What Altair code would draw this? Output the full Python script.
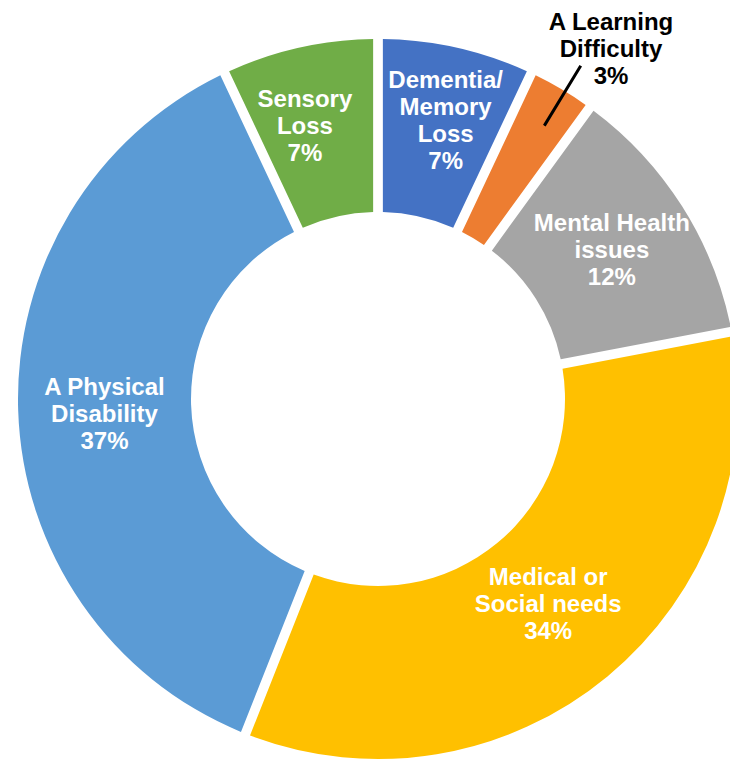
import math
import altair as alt
import pandas as pd

# ---- data ----
categories = [
    "Dementia/ Memory Loss",
    "A Learning Difficulty",
    "Mental Health issues",
    "Medical or Social needs",
    "A Physical Disability",
    "Sensory Loss",
]
label_text = [
    "Dementia/\nMemory\nLoss\n7%",
    "A Learning\nDifficulty\n3%",
    "Mental Health\nissues\n12%",
    "Medical or\nSocial needs\n34%",
    "A Physical\nDisability\n37%",
    "Sensory\nLoss\n7%",
]
values = [7, 3, 12, 34, 37, 7]
colors = ["#4472C4", "#ED7D31", "#A5A5A5", "#FFC000", "#5B9BD5", "#70AD47"]

# ---- label layout (pixels / value-unit offsets) ----
label_radius = [286, 420, 277, 267, 274, 282]
label_shift = [0.3, 0.86, 0.0, 0.0, -0.42, -0.67]
LINE_H = 27
LEADER_SHIFT = 0.2

df = pd.DataFrame({"category": categories, "label": label_text, "value": values})
df["end"] = df["value"].cumsum()
df["start"] = df["end"] - df["value"]
df["mid"] = (df["start"] + df["end"]) / 2
df["leader_theta"] = df["mid"] + LEADER_SHIFT
df["label_theta"] = df["mid"] + pd.Series(label_shift)
df["label_r"] = label_radius
df["inside"] = df["category"] != "A Learning Difficulty"
df["nlines"] = df["label"].str.count("\n") + 1

CX, CY = 378, 399
theta_scale = alt.Scale(domain=[0, 100], range=[0, 2 * math.pi])

base = alt.Chart(df)

arcs = base.mark_arc(innerRadius=187, outerRadius=360, padAngle=0.024).encode(
    theta=alt.Theta("start:Q", scale=theta_scale),
    theta2="end:Q",
    color=alt.Color("category:N", scale=alt.Scale(domain=categories, range=colors), legend=None),
    x=alt.value(CX),
    y=alt.value(CY),
)

text_style = dict(
    font="Liberation Sans",
    fontWeight="bold",
    fontSize=24,
    lineHeight=LINE_H,
    lineBreak="\n",
    align="center",
    baseline="middle",
)

layers = [arcs]

leader = base.transform_filter("!datum.inside").mark_arc(
    innerRadius=320, outerRadius=390, stroke="black", strokeWidth=3, fillOpacity=0
).encode(
    theta=alt.Theta("leader_theta:Q", scale=theta_scale),
    theta2="leader_theta:Q",
    x=alt.value(CX),
    y=alt.value(CY),
)
layers.append(leader)

for inside, color in [(True, "white"), (False, "black")]:
    for n in sorted(df["nlines"].unique()):
        sub = df[(df["inside"] == inside) & (df["nlines"] == n)]
        if sub.empty:
            continue
        cond = ("datum.inside" if inside else "!datum.inside") + f" && datum.nlines == {int(n)}"
        layers.append(
            base.transform_filter(cond)
            .mark_text(color=color, dy=-(int(n) - 1) * LINE_H / 2, **text_style)
            .encode(
                theta=alt.Theta("label_theta:Q", scale=theta_scale),
                radius=alt.Radius("label_r:Q", scale=None),
                text="label:N",
                x=alt.value(CX),
                y=alt.value(CY),
            )
        )

chart = (
    alt.layer(*layers)
    .properties(width=730, height=763, autosize=alt.AutoSizeParams(type="none"), padding=0, background="white")
    .configure_view(stroke=None)
)

chart.save("out.html", embed_options={"renderer": "svg", "actions": False})
